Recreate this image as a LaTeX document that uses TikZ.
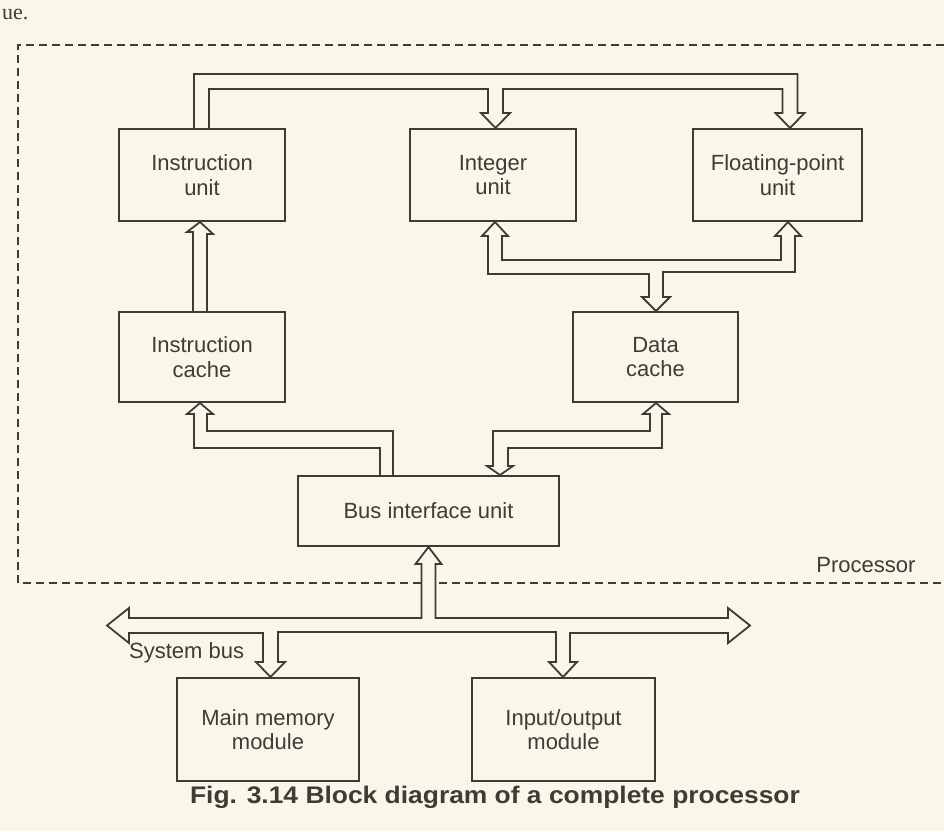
\documentclass[tikz,border=0pt]{standalone}
\usepackage{fontspec}
\setmainfont{Liberation Sans}
\newfontfamily\serifpart{Liberation Serif}
\usetikzlibrary{calc}
\definecolor{paper}{RGB}{250,246,233}
\definecolor{ink}{RGB}{66,58,52}
\begin{document}
\begin{tikzpicture}[x=1pt,y=-1pt,
  blk/.style={draw=ink, line width=2pt, fill=paper, text=ink, align=center,
    font=\fontsize{22}{24.5}\selectfont, inner sep=0pt},
  bus/.style={draw=ink, line width=1.8pt, line join=miter},
  lbl/.style={text=ink, font=\fontsize{22}{24.5}\selectfont, inner sep=0pt},
  procline/.style={draw=ink, line width=1.8pt, dash pattern=on 8pt off 5pt},
]
\fill[paper] (0,0) rectangle (944,831);
\useasboundingbox (0,0) rectangle (944,831);

% remnant text of the page above
\node[anchor=base west, inner sep=0pt, text=ink, font=\serifpart\fontsize{22}{22}\selectfont] (rem) at (2,19) {ue.};

% processor boundary
\draw[procline] (944,45) -- (18,45) -- (18,583) -- (944,583);
\node[lbl, anchor=base] (proc) at (866,572) {Processor};

% blocks
\node[blk, minimum width=166pt, minimum height=92pt] (iu)  at (202,175)   {Instruction\\unit};
\node[blk, minimum width=166pt, minimum height=92pt] (int) at (493,175)   {Integer\\unit};
\node[blk, minimum width=169pt, minimum height=92pt] (fp)  at (777.5,175) {Floating-point\\unit};
\node[blk, minimum width=166pt, minimum height=90pt] (ic)  at (202,357)   {Instruction\\cache};
\node[blk, minimum width=165pt, minimum height=90pt] (dc)  at (655.5,357) {Data\\cache};
\node[blk, minimum width=261pt, minimum height=70pt] (biu) at (428.5,511) {Bus interface unit};
\node[blk, minimum width=182pt, minimum height=103pt] (mm) at (268,729.5)   {Main memory\\module};
\node[blk, minimum width=183pt, minimum height=103pt] (io) at (563.5,729.5) {Input/output\\module};

% connector points
\coordinate (sIU)  at ($(iu.north)+(-8,0)$);
\coordinate (eIU)  at ($(iu.north)+(7,0)$);
\coordinate (tInt) at ($(int.north)+(2.5,0)$);
\coordinate (tFP)  at ($(fp.north)+(12.5,0)$);
\coordinate (tIU)  at ($(iu.south)+(-2,0)$);
\coordinate (bIC)  at ($(ic.north)+(-9,0)$);
\coordinate (eIC)  at ($(ic.north)+(5,0)$);
\coordinate (tI2)  at ($(int.south)+(2,0)$);
\coordinate (tF2)  at ($(fp.south)+(10.5,0)$);
\coordinate (tDC)  at ($(dc.north)+(0.5,0)$);
\coordinate (tIC)  at ($(ic.south)+(-2,0)$);
\coordinate (sB1)  at ($(biu.north)+(-48.5,0)$);
\coordinate (eB1)  at ($(biu.north)+(-35.5,0)$);
\coordinate (tDC2) at ($(dc.south)+(0.5,0)$);
\coordinate (tB2)  at ($(biu.north)+(71.5,0)$);
\coordinate (tB3)  at (biu.south);
\coordinate (tMM)  at ($(mm.north)+(2.5,0)$);
\coordinate (tIO)  at ($(io.north)+(-0.5,0)$);
\coordinate (lEnd) at (107,625.5);
\coordinate (rEnd) at (750,625.5);

% instruction unit -> integer unit, floating-point unit
\draw[bus] (sIU) -- ++(0,-54) -| ($(tFP)+(7.5,-15)$) -- ++(7,0) -- (tFP)
  -- ++(-14.5,-15) -- ++(7,0) |- ($(tInt)+(7.5,-39)$) -- ++(0,24) -- ++(7,0)
  -- (tInt) -- ++(-14.5,-15) -- ++(7,0) |- ($(eIU)+(0,-39)$) -- (eIU);

% instruction cache -> instruction unit
\draw[bus] (bIC) -- ++(0,-79) -- ++(-6,0) -- (tIU) -- ++(13,12) -- ++(-6,0) -- (eIC);

% integer / floating-point <-> data cache
\draw[bus] (tI2) -- ++(13,14) -- ++(-6,0) |- ($(tF2)+(-7,38)$) -- ++(0,-24) -- ++(-6,0)
  -- (tF2) -- ++(13,14) -- ++(-6,0) |- ($(tDC)+(7,-39)$) -- ++(0,25) -- ++(7,0)
  -- (tDC) -- ++(-14,-14) -- ++(7,0) |- ($(tI2)+(-7,52)$) -- ++(0,-38) -- ++(-6,0) -- cycle;

% bus interface unit -> instruction cache
\draw[bus] (sB1) |- ($(tIC)+(-6,45)$) -- ++(0,-34) -- ++(-7,0) -- (tIC) -- ++(13,11)
  -- ++(-6,0) |- ($(eB1)+(0,-44)$) -- (eB1);

% bus interface unit <-> data cache
\draw[bus] (tB2) -- ++(13,-9) -- ++(-5,0) |- ($(tDC2)+(6,45)$) -- ++(0,-34) -- ++(7,0)
  -- (tDC2) -- ++(-13,11) -- ++(7,0) |- ($(tB2)+(-7,-44)$) -- ++(0,35) -- ++(-6,0) -- cycle;

% system bus
\draw[bus, fill=paper] (tB3) -- ++(13,17) -- ++(-6,0) |- ($(rEnd)+(-22,-7.5)$) -- ++(0,-10)
  -- (rEnd) -- ++(-22,17.5) -- ++(0,-10) -| ($(tIO)+(7,-15)$) -- ++(7,0) -- (tIO)
  -- ++(-14,-15) -- ++(7,0) |- ($(tMM)+(7.5,-45)$) -- ++(0,30) -- ++(7,0) -- (tMM)
  -- ++(-14.5,-15) -- ++(7,0) |- ($(lEnd)+(22,7.5)$) -- ++(0,10) -- (lEnd)
  -- ++(22,-17.5) -- ++(0,10) -| ($(tB3)+(-7,17)$) -- ++(-6,0) -- cycle;
\node[lbl, anchor=base west] (sysbus) at (129,658) {System bus};

% caption
\node[text=ink, inner sep=0pt, font=\bfseries\fontsize{24}{28}\selectfont] (cap) at (495,797)
  {\scalebox{1.1}[1]{Fig. 3.14 Block diagram of a complete processor}};
\end{tikzpicture}
\end{document}
